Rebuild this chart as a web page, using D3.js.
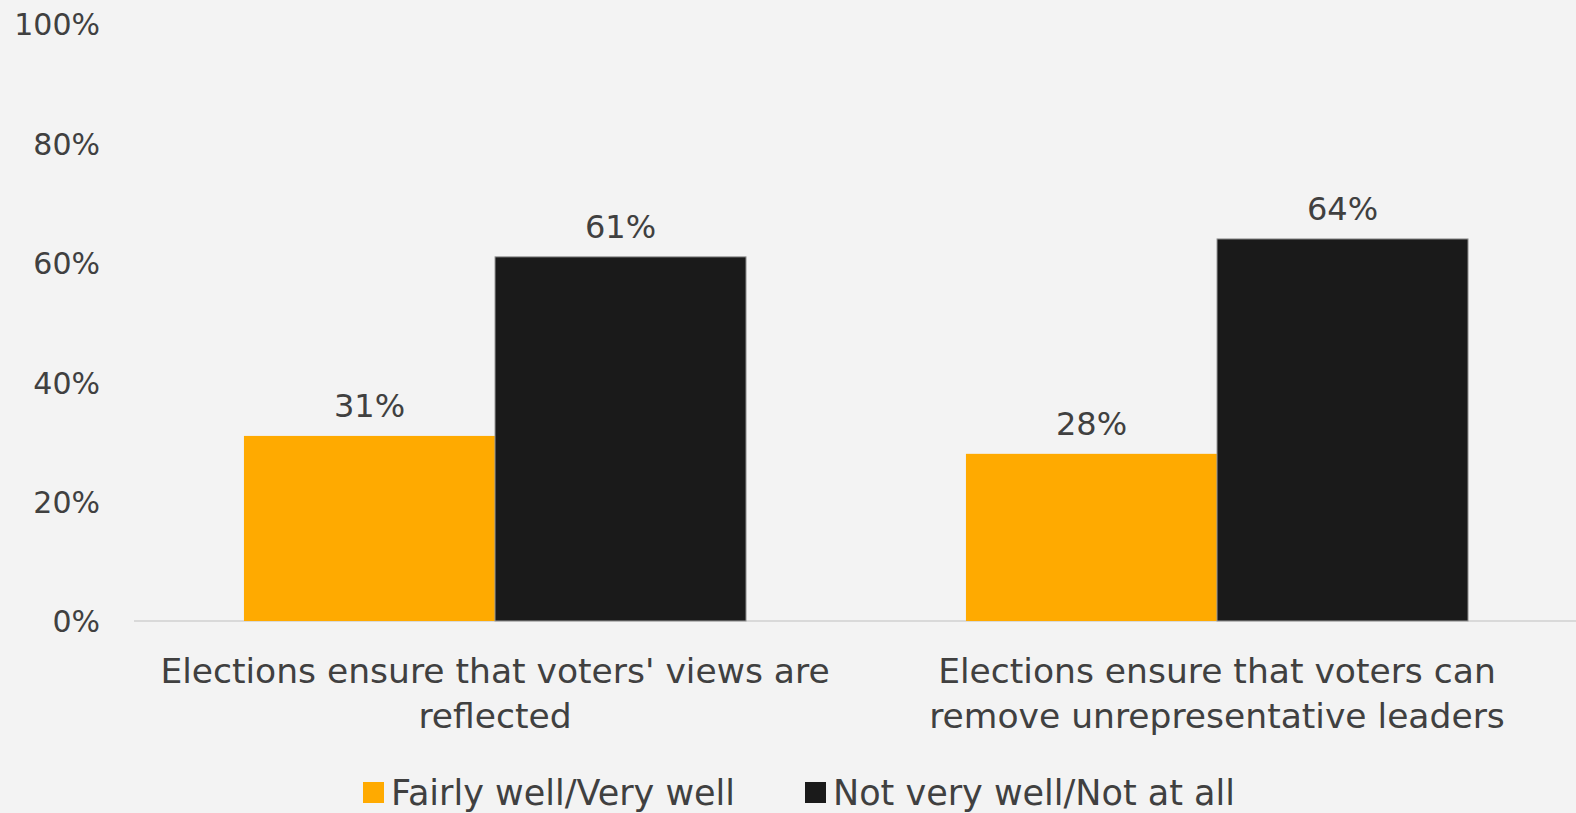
<!DOCTYPE html>
<html><head><meta charset="utf-8">
<script src="https://cdn.jsdelivr.net/npm/d3@7"></script>
<style>
html,body{margin:0;padding:0;background:#f3f3f3;}
svg{display:block;}
text{font-family:"DejaVu Sans",sans-serif;fill:#404040;}
</style></head>
<body><svg id="chart" width="1576" height="813"></svg>
<script>
const categories = [
  ["Elections ensure that voters' views are", "reflected"],
  ["Elections ensure that voters can", "remove unrepresentative leaders"]
];
const seriesNames = ["Fairly well/Very well", "Not very well/Not at all"];
const seriesColors = ["#FFAA00", "#1a1a1a"];
const fairlyWell = [31, 28];
const notWell = [61, 64];
const yTicks = [0, 20, 40, 60, 80, 100];

(function () {
const svg = d3.select("#chart");
const W = 1576;
const pLeft = 134, pRight = 1578, pTop = 24, pBottom = 621;

const catIdx = categories.map((d, i) => i);
const x0 = d3.scaleBand().domain(catIdx).range([pLeft, pRight]).paddingInner(0).paddingOuter(0);
const x1 = d3.scaleBand().domain([0, 1]).range([0, x0.bandwidth()]).paddingInner(0).paddingOuter(0.438);
const y = d3.scaleLinear().domain([0, 100]).range([pBottom, pTop]);

// y axis labels
const yAxis = d3.axisLeft(y).tickValues(yTicks).tickFormat(d => d + "%").tickSize(0).tickPadding(0);
const ya = svg.append("g").attr("transform", "translate(100,0)").call(yAxis);
ya.select(".domain").remove();
ya.selectAll("text").style("font-family", "'DejaVu Sans',sans-serif").style("font-size", "30px").attr("fill", "#404040").attr("dy", "0.36em");

// baseline
svg.append("line").attr("x1", pLeft).attr("x2", W).attr("y1", y(0)).attr("y2", y(0))
  .attr("stroke", "#d9d9d9").attr("stroke-width", 2);

const data = [fairlyWell, notWell];
const groups = svg.append("g").selectAll("g").data(catIdx).join("g")
  .attr("transform", i => `translate(${x0(i)},0)`);

groups.selectAll("rect").data(i => data.map((s, si) => ({si, v: s[i]}))).join("rect")
  .attr("x", d => x1(d.si)).attr("width", x1.bandwidth())
  .attr("y", d => y(d.v)).attr("height", d => y(0) - y(d.v))
  .attr("fill", d => seriesColors[d.si])
  .attr("stroke", d => d.si === 1 ? "#9a9a9a" : "none").attr("stroke-width", 1);

groups.selectAll("text.val").data(i => data.map((s, si) => ({si, v: s[i]}))).join("text")
  .attr("class", "val")
  .attr("x", d => x1(d.si) + x1.bandwidth() / 2)
  .attr("y", d => y(d.v) - 19)
  .attr("text-anchor", "middle").style("font-size", "32px")
  .text(d => d.v + "%");

// category labels
const catG = svg.append("g");
catIdx.forEach(i => {
  categories[i].forEach((line, li) => {
    catG.append("text")
      .attr("x", x0(i) + x0.bandwidth() / 2)
      .attr("y", 671 + li * 45)
      .attr("dy", "0.36em")
      .attr("text-anchor", "middle").style("font-size", "34.5px")
      .text(line);
  });
});

// legend
const legendX = [363, 805];
seriesNames.forEach((name, i) => {
  svg.append("rect").attr("x", legendX[i]).attr("y", 782).attr("width", 21).attr("height", 21)
    .attr("fill", seriesColors[i]);
  svg.append("text").attr("x", legendX[i] + 28).attr("y", 792).attr("dy", "0.36em")
    .style("font-size", "35px").text(name);
});
})();
</script>
</body></html>
